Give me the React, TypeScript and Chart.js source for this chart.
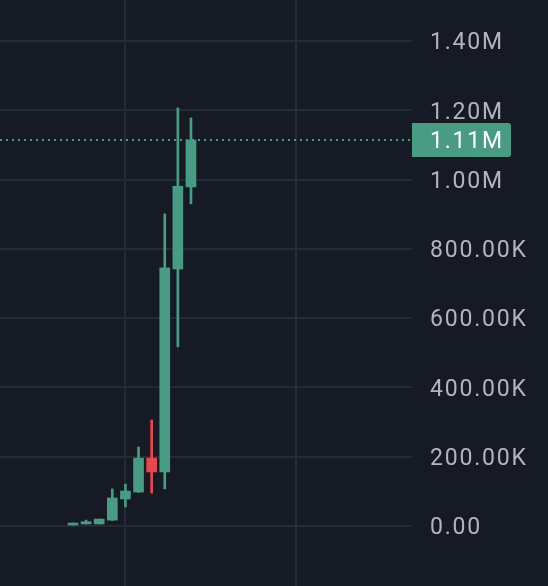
import { useEffect, useRef } from 'react';
import { Chart, registerables } from 'chart.js';

Chart.register(...registerables);

// ---- data ----
const periodIndex = [0, 1, 2, 3, 4, 5, 6, 7, 8, 9];
const openValues = [3000, 6000, 6000, 17000, 78000, 98000, 196000, 156000, 742000, 979000];
const highValues = [8500, 17000, 20000, 107000, 121000, 228000, 306000, 901000, 1207000, 1178000];
const lowValues = [2500, 5500, 5500, 16000, 55000, 97000, 95000, 107000, 517000, 930000];
const closeValues = [8500, 12500, 20000, 81000, 101000, 196000, 156000, 745000, 981000, 1114000];
const yTickValues = [0, 200000, 400000, 600000, 800000, 1000000, 1200000, 1400000];
const timeGridTicks = [4, 17];

const UP = '#4a9b83';
const DOWN = '#e4474f';
const BG = '#161a25';
const GRID = '#262a36';
const TEXT = '#b2b5be';
const FONT = 'Roboto, "Noto Sans", sans-serif';
const FONT_SIZE = 23;
const TRACKING = '1.8px';
const TEXT_NUDGE = 2.5;

function fmt(v: number): string {
  if (v === 0) return '0.00';
  if (Math.abs(v) >= 1e6) return (v / 1e6).toFixed(2) + 'M';
  return (v / 1e3).toFixed(2) + 'K';
}

const bgPlugin = {
  id: 'bg',
  beforeDraw(chart: any) {
    const { ctx, width, height } = chart;
    ctx.fillStyle = BG;
    ctx.fillRect(0, 0, width, height);
    (ctx as any).letterSpacing = TRACKING;
  },
};

const lastPricePlugin = {
  id: 'lastPrice',
  afterDatasetsDraw(chart: any) {
    const { ctx, chartArea, scales } = chart;
    const last = closeValues[closeValues.length - 1];
    const py = scales.y.getPixelForValue(last);
    ctx.save();
    ctx.strokeStyle = UP;
    ctx.lineWidth = 2;
    ctx.setLineDash([2, 4]);
    ctx.beginPath();
    ctx.moveTo(chartArea.left, py);
    ctx.lineTo(chartArea.right, py);
    ctx.stroke();
    ctx.restore();
  },
  afterDraw(chart: any) {
    const { ctx, chartArea, scales } = chart;
    const last = closeValues[closeValues.length - 1];
    const py = scales.y.getPixelForValue(last);
    const x = chartArea.right;
    const w = 99;
    const h = 34;
    ctx.save();
    ctx.fillStyle = UP;
    ctx.beginPath();
    (ctx as any).roundRect(x, py - h / 2, w, h, [0, 3, 3, 0]);
    ctx.fill();
    ctx.fillStyle = '#ffffff';
    ctx.font = `${FONT_SIZE}px ${FONT}`;
    (ctx as any).letterSpacing = TRACKING;
    ctx.textAlign = 'left';
    ctx.textBaseline = 'middle';
    ctx.fillText(fmt(last), x + 18, py + TEXT_NUDGE);
    ctx.restore();
  },
};

export default function App() {
  const canvasRef = useRef<HTMLCanvasElement | null>(null);

  useEffect(() => {
    const canvas = canvasRef.current;
    if (!canvas) return;
    const colors = periodIndex.map((_, i) => (closeValues[i] >= openValues[i] ? UP : DOWN));
    const chart = new Chart(canvas, {
      type: 'bar',
      data: {
        datasets: [
          {
            label: 'body',
            data: periodIndex.map((i) => ({ x: i, y: [openValues[i], closeValues[i]] })) as any,
            backgroundColor: colors,
            borderWidth: 0,
            barThickness: 10,
            grouped: false,
            order: 0,
          },
          {
            label: 'wick',
            data: periodIndex.map((i) => ({ x: i, y: [lowValues[i], highValues[i]] })) as any,
            backgroundColor: colors,
            borderWidth: 0,
            barThickness: 2,
            grouped: false,
            order: 1,
          },
        ],
      },
      options: {
        animation: false,
        responsive: true,
        maintainAspectRatio: false,
        layout: { padding: 0 },
        plugins: { legend: { display: false }, tooltip: { enabled: false } },
        scales: {
          x: {
            type: 'linear',
            offset: false,
            min: -5.568,
            max: 25.86,
            grid: { color: GRID, lineWidth: 2, drawTicks: false, offset: false },
            border: { display: false },
            ticks: { display: false },
            afterBuildTicks: (scale: any) => {
              scale.ticks = timeGridTicks.map((v) => ({ value: v }));
            },
            afterFit: (scale: any) => {
              scale.height = 0;
              scale.paddingLeft = 0;
              scale.paddingRight = 0;
            },
          },
          y: {
            type: 'linear',
            position: 'right',
            min: -173200,
            max: 1518500,
            grid: { color: GRID, lineWidth: 2, drawTicks: false },
            border: { display: false },
            ticks: {
              color: TEXT,
              padding: 18,
              labelOffset: TEXT_NUDGE,
              font: { family: FONT, size: FONT_SIZE },
              callback: (v: any) => fmt(Number(v)),
            },
            afterBuildTicks: (scale: any) => {
              scale.ticks = yTickValues.map((v) => ({ value: v }));
            },
            afterFit: (scale: any) => {
              scale.width = 136;
              scale.paddingTop = 0;
              scale.paddingBottom = 0;
            },
          },
        },
      },
      plugins: [bgPlugin, lastPricePlugin],
    });
    return () => chart.destroy();
  }, []);

  return (
    <div
      style={{
        position: 'fixed',
        left: 0,
        top: 0,
        width: 548,
        height: 586,
        background: BG,
      }}
    >
      <canvas ref={canvasRef} style={{ display: 'block' }} />
    </div>
  );
}
